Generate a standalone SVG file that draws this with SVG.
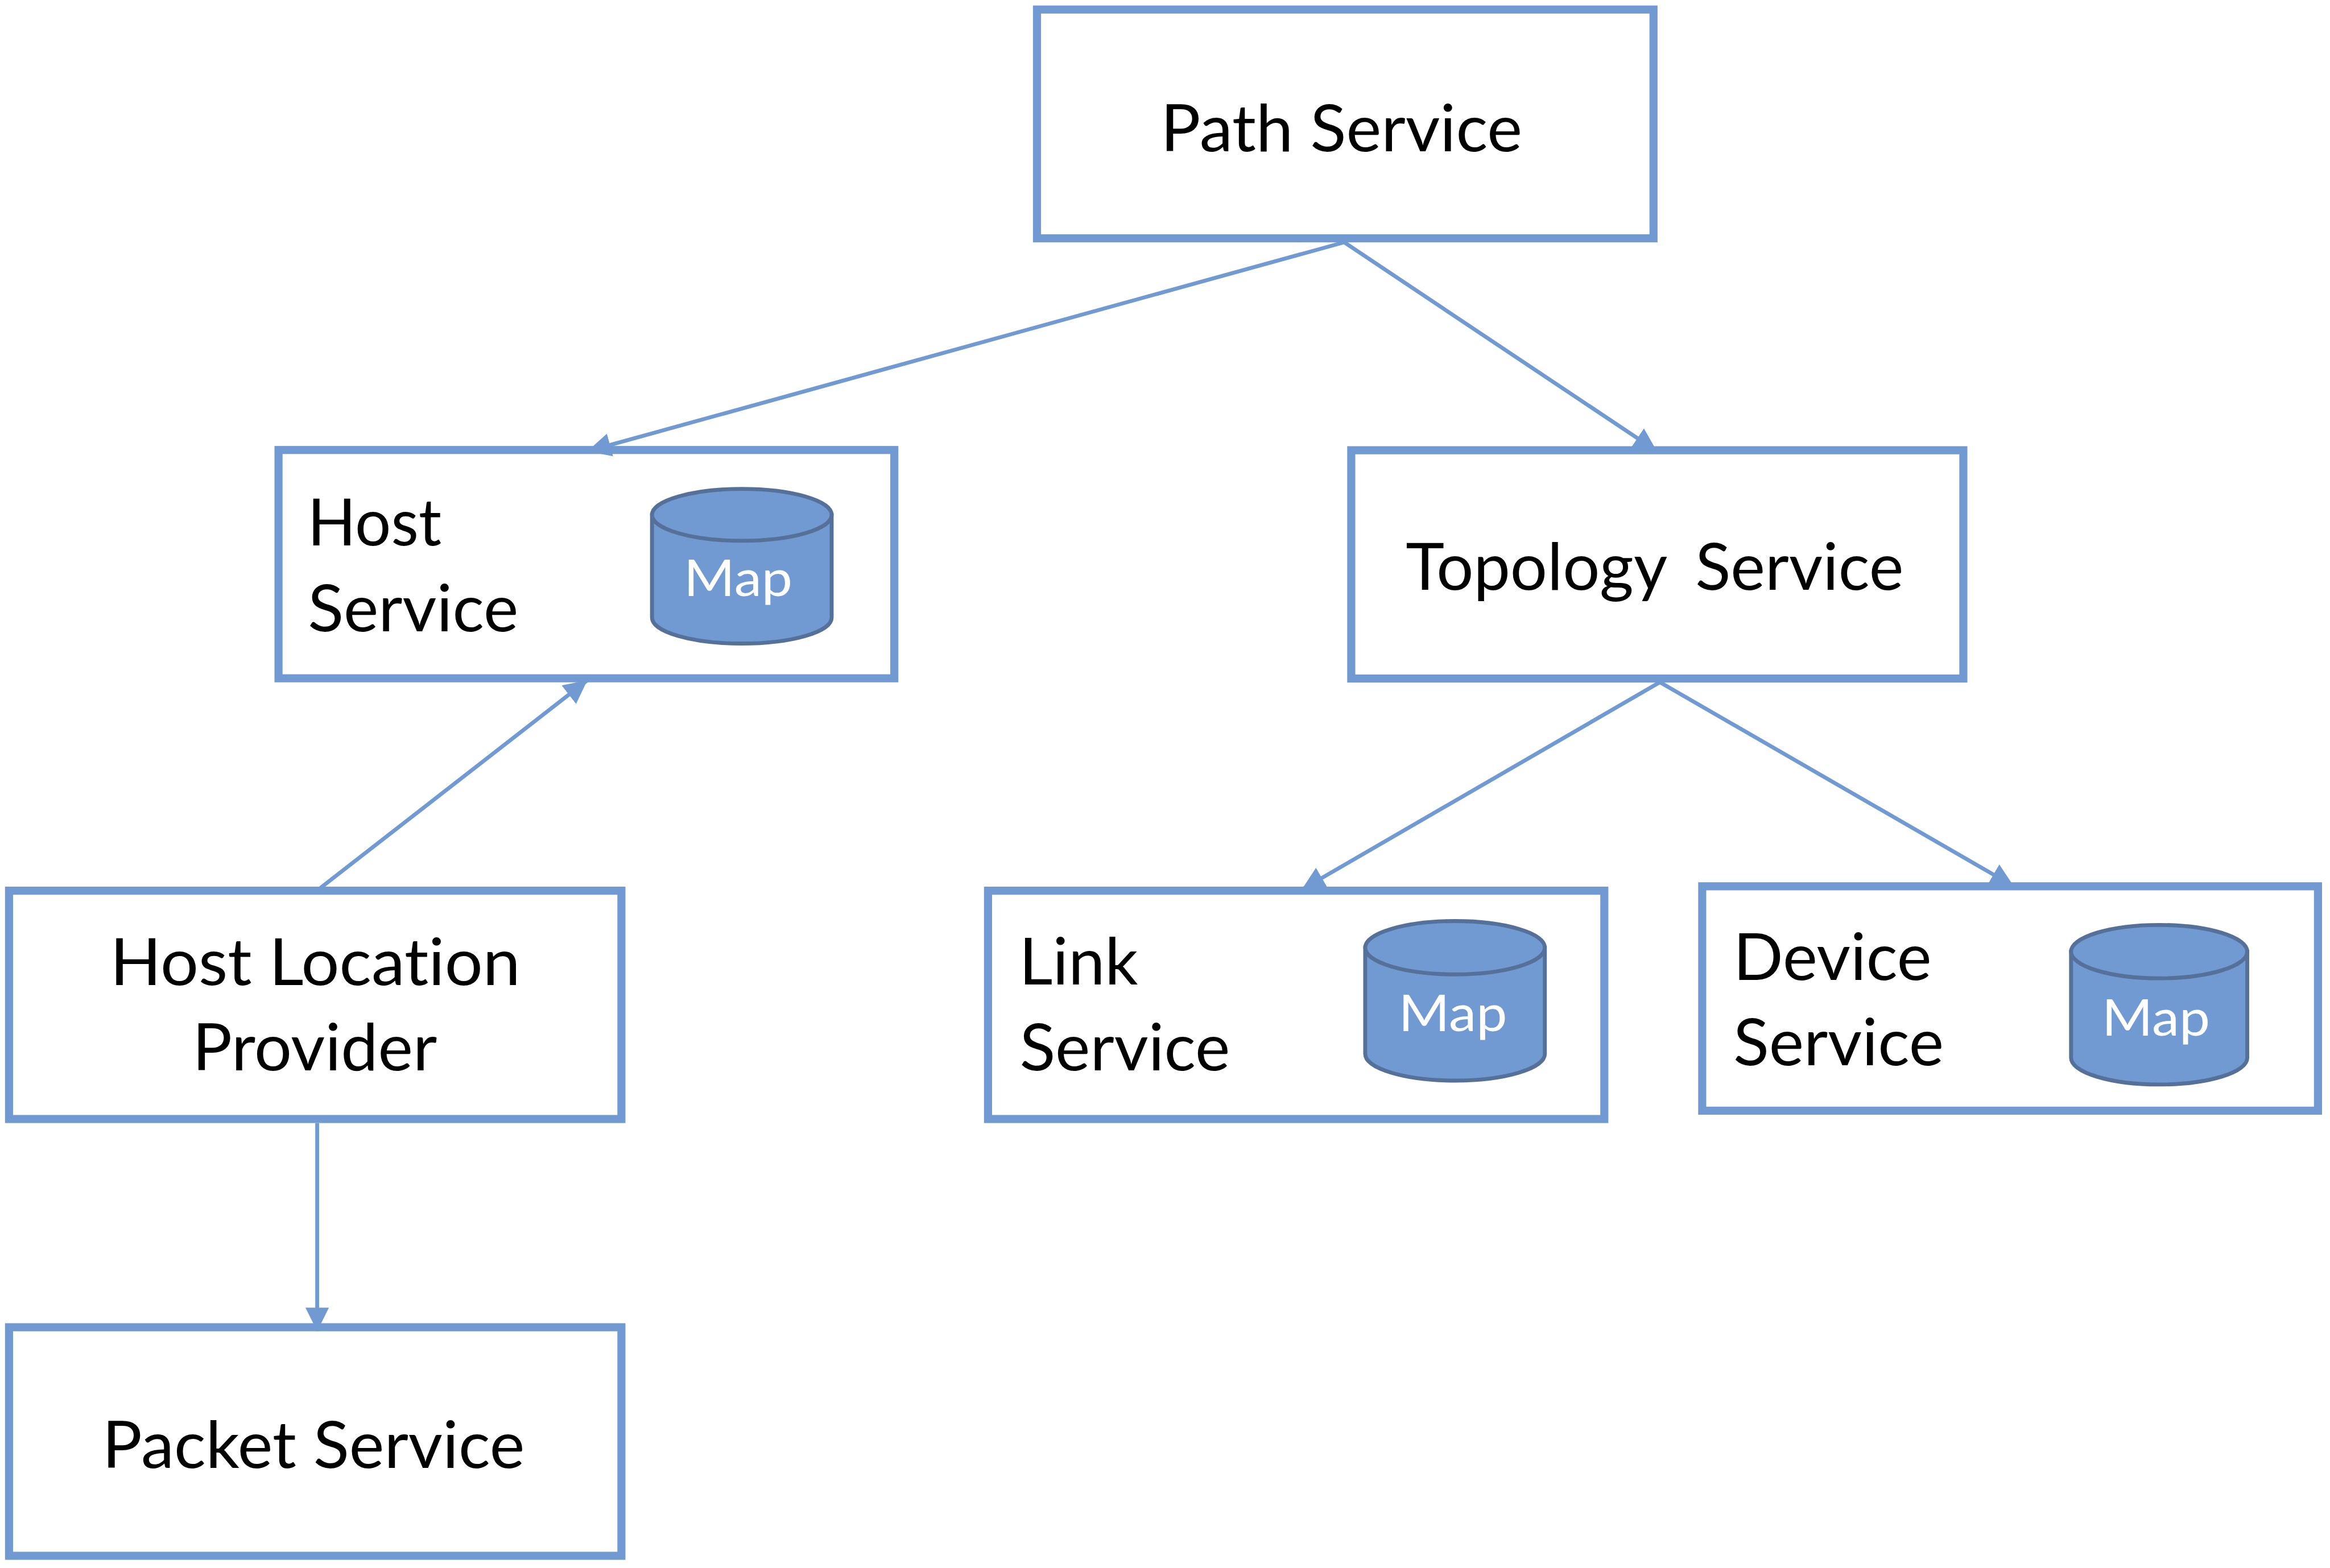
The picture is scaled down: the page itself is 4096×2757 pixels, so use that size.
<svg xmlns="http://www.w3.org/2000/svg" width="4096" height="2757" viewBox="0 0 4096 2757">
<style>
.box{fill:#fff;stroke:#719ad3;stroke-width:16.5}
.t{font-family:Lato,"Noto Sans",sans-serif;font-size:133px;fill:#000;font-variant-ligatures:none}
.m{font-family:Lato,"Noto Sans",sans-serif;font-size:104px;fill:#fff;font-variant-ligatures:none}
.cyl{fill:#719ad3;stroke:#557199;stroke-width:8}
.c{fill:none;stroke:#719ad3;stroke-width:8}
</style>
<defs>
<marker id="a" markerUnits="userSpaceOnUse" markerWidth="50" markerHeight="50" refX="48" refY="24" orient="auto"><path d="M0,0L48,24L0,48z" fill="#719ad3"/></marker>
</defs>
<rect width="4096" height="2757" fill="#fff"/>
<g transform="scale(.8605)">
<g id="path-service"><rect class="box" x="2118.5" y="19.5" width="1259.5" height="467.5"/><text class="t" x="2371" y="309" textLength="739" lengthAdjust="spacingAndGlyphs">Path Service</text></g>
<g id="host-service"><rect class="box" x="569" y="919.5" width="1258" height="466.5"/><text class="t" x="628" y="1115" textLength="274" lengthAdjust="spacingAndGlyphs">Host</text><text class="t" x="629" y="1290" textLength="430" lengthAdjust="spacingAndGlyphs">Service</text>
<g id="host-map"><path class="cyl" d="M1332,1052V1262A183.5,53 0 0 0 1699,1262V1052z"/><ellipse class="cyl" cx="1515.5" cy="1052" rx="183.5" ry="53"/><text class="m" x="1397" y="1218" textLength="222" lengthAdjust="spacingAndGlyphs">Map</text></g></g>
<g id="topology-service"><rect class="box" x="2760.5" y="920" width="1250.5" height="466.5"/><text class="t" xml:space="preserve" style="word-spacing:-4px" x="2872" y="1205" textLength="1017" lengthAdjust="spacingAndGlyphs">Topology  Service</text></g>
<g id="host-location-provider"><rect class="box" x="18.5" y="1820" width="1251" height="466.5"/><text class="t" x="225" y="2013" textLength="838" lengthAdjust="spacingAndGlyphs">Host Location</text><text class="t" x="393" y="2187" textLength="500" lengthAdjust="spacingAndGlyphs">Provider</text></g>
<g id="link-service"><rect class="box" x="2018.5" y="1820" width="1259" height="466.5"/><text class="t" x="2082" y="2012" textLength="243" lengthAdjust="spacingAndGlyphs">Link</text><text class="t" x="2083" y="2187" textLength="430" lengthAdjust="spacingAndGlyphs">Service</text>
<g id="link-map"><path class="cyl" d="M2789,1936.5V2153.5A183.5,54.5 0 0 0 3156,2153.5V1936.5z"/><ellipse class="cyl" cx="2972.5" cy="1936.5" rx="183.5" ry="54.5"/><text class="m" x="2857" y="2107" textLength="222" lengthAdjust="spacingAndGlyphs">Map</text></g></g>
<g id="device-service"><rect class="box" x="3477.5" y="1811" width="1258" height="458.5"/><text class="t" x="3541" y="2002" textLength="405" lengthAdjust="spacingAndGlyphs">Device</text><text class="t" x="3541" y="2177" textLength="430" lengthAdjust="spacingAndGlyphs">Service</text>
<g id="device-map"><path class="cyl" d="M4231,1944.5V2161.5A180,54.5 0 0 0 4591,2161.5V1944.5z"/><ellipse class="cyl" cx="4411" cy="1944.5" rx="180" ry="54.5"/><text class="m" x="4294" y="2116" textLength="221" lengthAdjust="spacingAndGlyphs">Map</text></g></g>
<g id="packet-service"><rect class="box" x="18.5" y="2712" width="1251" height="467"/><text class="t" x="209" y="2999" textLength="863" lengthAdjust="spacingAndGlyphs">Packet Service</text></g>
<g id="connectors">
<line class="c" marker-end="url(#a)" x1="2746" y1="495" x2="1200" y2="922"/>
<line class="c" marker-end="url(#a)" x1="2746" y1="495" x2="3385" y2="922"/>
<line class="c" marker-end="url(#a)" x1="655" y1="1814" x2="1200" y2="1390"/>
<line class="c" marker-end="url(#a)" x1="3391" y1="1394" x2="2659" y2="1818"/>
<line class="c" marker-end="url(#a)" x1="3391" y1="1394" x2="4114" y2="1811"/>
<line class="c" marker-end="url(#a)" x1="648" y1="2295" x2="648" y2="2720"/>
</g>
</g>
</svg>
